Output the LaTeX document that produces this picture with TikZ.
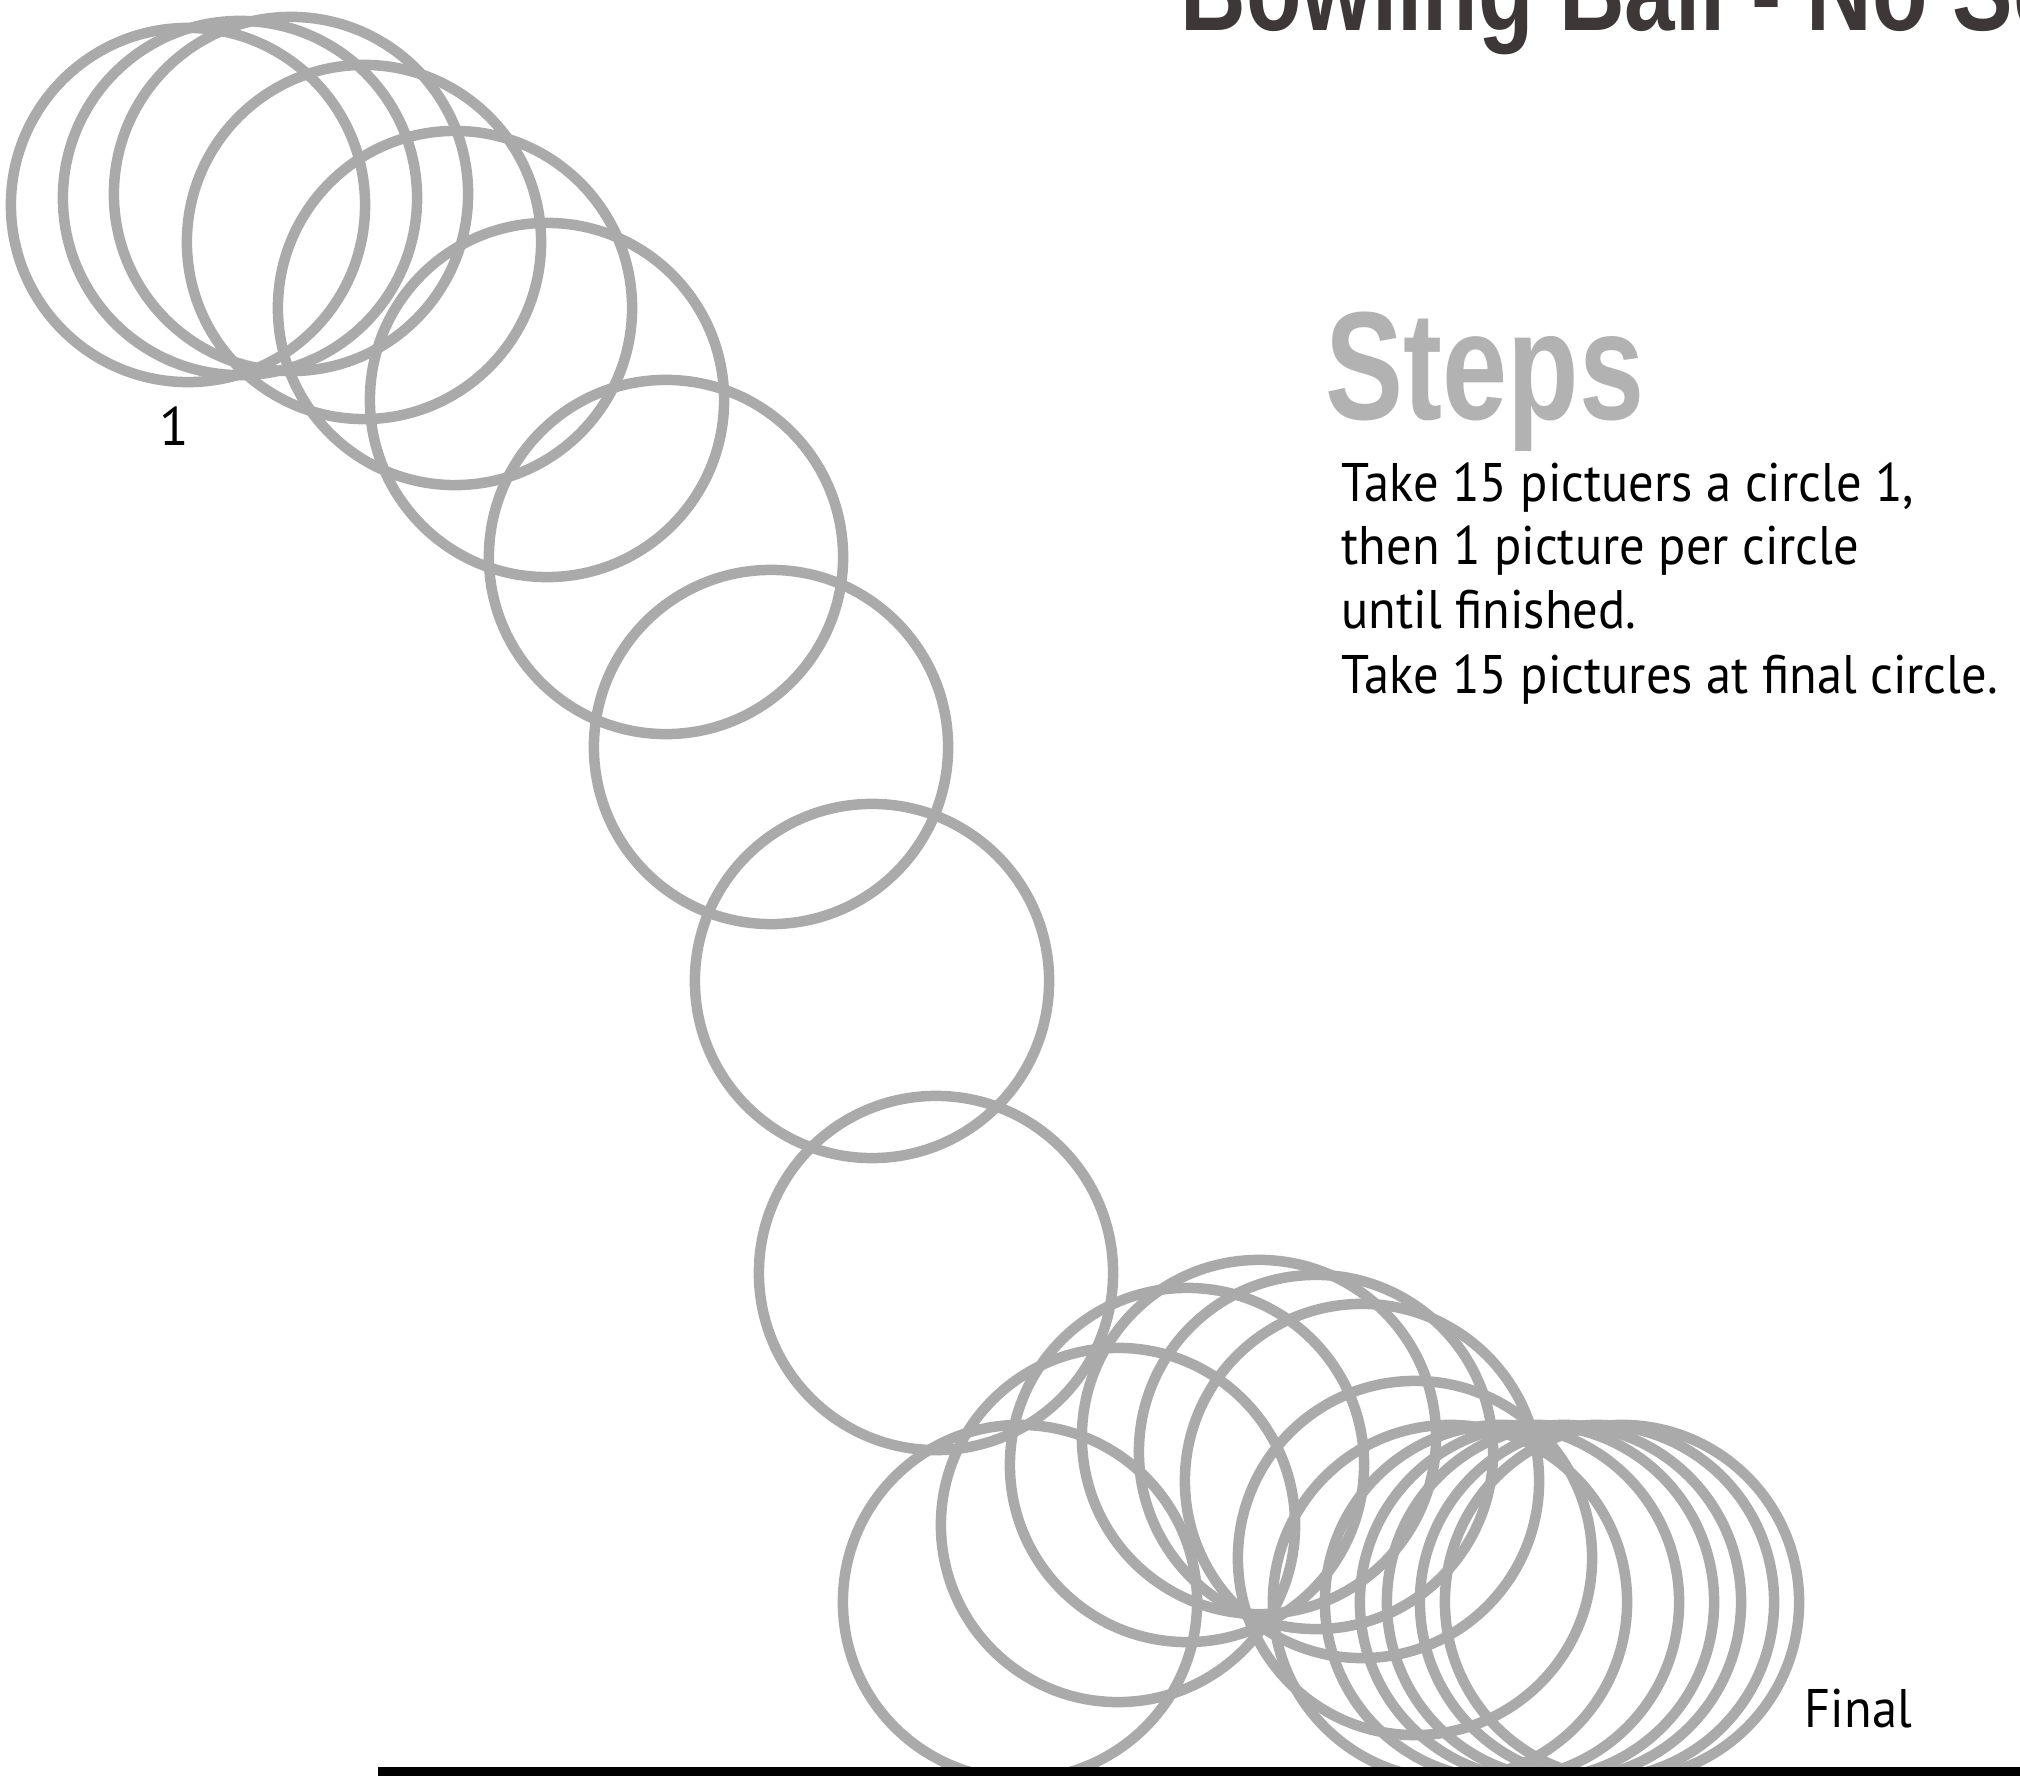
\documentclass[tikz,border=0pt]{standalone}
\usepackage{fontspec}
\newfontfamily\bodyfont{PT Sans}
\newfontfamily\headfont{Liberation Sans}
\definecolor{ringcol}{RGB}{170,170,170}
\definecolor{titlecol}{RGB}{61,55,56}
\definecolor{stepcol}{RGB}{178,178,178}
\newcommand\mysqz[1]{\scalebox{0.93}[1]{#1}}
\begin{document}
\begin{tikzpicture}[x=0.01cm,y=-0.01cm,
  ring/.style={circle,draw=ringcol,line width=0.105cm,minimum size=3.54cm,inner sep=0pt},
  bodytext/.style={anchor=base west,inner sep=0pt,text=black,font=\bodyfont\fontsize{15.45pt}{18pt}\selectfont},
  floorbar/.style={fill=black}]
\useasboundingbox (0,0) rectangle (2020,1776);
\foreach \n/\cx/\cy in {1/188/205,2/240/198,3/291/194,4/364/242,5/455/308,6/547/400,
  7/666/557,8/771/747,9/872/981,10/936/1273,
  11/1020/1602,12/1118/1525,13/1187/1465,14/1259/1437,15/1316/1452,16/1362/1481,17/1415/1558,
  18/1450/1602,19/1502/1602,20/1537/1602,21/1564/1602,22/1597/1602,23/1622/1602}
  \node[ring] (c\n) at (\cx,\cy) {};
\fill[floorbar] (378,1767) rectangle (2020,1790);
\node[anchor=base west,inner sep=0pt,text=titlecol,font=\headfont\bfseries\fontsize{32.7pt}{36pt}\selectfont] (title) at (1180,31) {\scalebox{0.79}[1]{Bowling Ball - No Sc}};
\node[anchor=base west,inner sep=0pt,text=stepcol,font=\headfont\bfseries\fontsize{43.8pt}{48pt}\selectfont] (steps) at (1325,420) {\scalebox{0.76}[1]{Steps}};
\node[bodytext] (l1) at (1341,502) {\mysqz{Take 15 pictuers a circle 1,}};
\node[bodytext] (l2) at (1341,565) {\mysqz{then 1 picture per circle}};
\node[bodytext] (l3) at (1341,629) {\mysqz{until finished.}};
\node[bodytext] (l4) at (1341,694) {\mysqz{Take 15 pictures at final circle.}};
\node[bodytext,anchor=base] (one) at (174,446) {1};
\node[bodytext] (final) at (1804,1727) {\mysqz{Final}};
\end{tikzpicture}
\end{document}
